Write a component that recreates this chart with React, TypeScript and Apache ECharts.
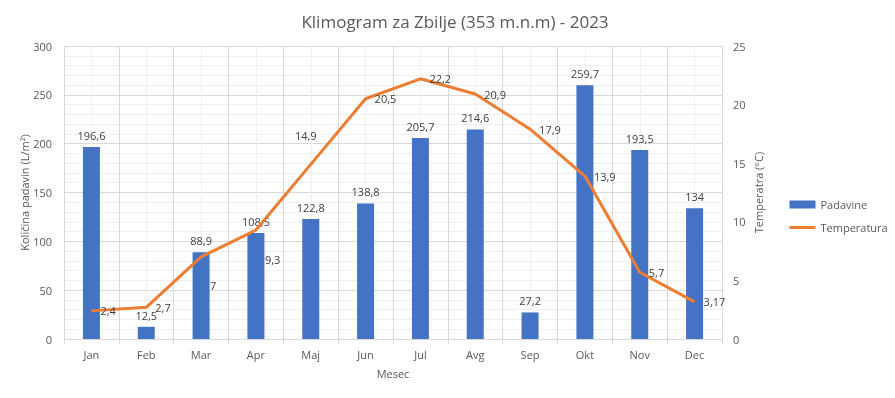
import React, { useEffect, useRef } from "react";
import * as echarts from "echarts";

const months = ["Jan", "Feb", "Mar", "Apr", "Maj", "Jun", "Jul", "Avg", "Sep", "Okt", "Nov", "Dec"];
const padavine = [196.6, 12.5, 88.9, 108.5, 122.8, 138.8, 205.7, 214.6, 27.2, 259.7, 193.5, 134];
const temperatura = [2.4, 2.7, 7, 9.3, 14.9, 20.5, 22.2, 20.9, 17.9, 13.9, 5.7, 3.17];
const leftTicks = [0, 50, 100, 150, 200, 250, 300];
const rightTicks = [0, 5, 10, 15, 20, 25];

const FONT = "'Open Sans', 'Noto Sans', sans-serif";
const fmt = (v: number) => String(v).replace(".", ",");

export default function App() {
  const ref = useRef<HTMLDivElement>(null);
  useEffect(() => {
    if (!ref.current) return;
    const chart = echarts.init(ref.current, undefined, { renderer: "svg" });
    const tempData = temperatura.map((v, i) => {
      const item: any = { value: v };
      if (i === 4) item.label = { position: "top" };
      return item;
    });
    chart.setOption({
      animation: false,
      textStyle: { fontFamily: FONT },
      title: {
        text: "Klimogram za Zbilje (353 m.n.m) - 2023",
        left: 450,
        textAlign: "center",
        top: 8,
        textStyle: { fontFamily: FONT, fontSize: 17, fontWeight: "normal", color: "#595959" },
      },
      legend: {
        orient: "vertical",
        left: 783,
        top: 194,
        itemWidth: 26,
        itemHeight: 8,
        itemGap: 12,
        textStyle: { fontFamily: FONT, fontSize: 11, color: "#595959" },
        data: [
          { name: "Padavine", icon: "rect" },
          { name: "Temperatura", itemStyle: { opacity: 0 }, lineStyle: { width: 3, color: "#ED7D31" } },
        ],
      },
      grid: { left: 64, right: 173, top: 46, bottom: 59, containLabel: false },
      xAxis: [
        {
          type: "category",
          data: months,
          name: "Mesec",
          nameLocation: "middle",
          nameGap: 29,
          nameMoveOverlap: false,
          nameTextStyle: { fontFamily: FONT, fontSize: 11, color: "#595959" },
          axisLine: { lineStyle: { color: "#d9d9d9" } },
          axisTick: { show: true, length: 5, lineStyle: { color: "#d9d9d9" } },
          axisLabel: { color: "#595959", fontSize: 11, margin: 10 },
          splitLine: { show: true, lineStyle: { color: "#d9d9d9" } },
          z: 2,
        },
        {
          type: "value",
          min: 0,
          max: 12,
          interval: 1,
          show: true,
          position: "bottom",
          axisLine: { show: false },
          axisTick: { show: false },
          axisLabel: { show: false },
          splitLine: { show: false },
          minorTick: { show: false, splitNumber: 2 },
          minorSplitLine: { show: true, lineStyle: { color: "#f0f0f0" } },
          z: 0,
        },
      ],
      yAxis: [
        {
          type: "value",
          min: 0,
          max: 300,
          interval: 50,
          name: "Količina padavin (L/m²)",
          nameLocation: "middle",
          nameGap: 34,
          nameMoveOverlap: false,
          nameTextStyle: { fontFamily: FONT, fontSize: 11, color: "#595959" },
          axisLine: { show: false },
          axisTick: { show: false },
          axisLabel: { color: "#595959", fontSize: 11, margin: 12, customValues: leftTicks },
          splitLine: { lineStyle: { color: "#d9d9d9" } },
          minorTick: { show: false, splitNumber: 5 },
          minorSplitLine: { show: true, lineStyle: { color: "#f0f0f0" } },
        },
        {
          type: "value",
          min: 0,
          max: 25,
          interval: 5,
          name: "Temperatra (°C)",
          nameLocation: "middle",
          nameGap: 31,
          nameMoveOverlap: false,
          nameRotate: 90,
          nameTextStyle: { fontFamily: FONT, fontSize: 11, color: "#595959" },
          axisLine: { show: false },
          axisTick: { show: false },
          axisLabel: { color: "#595959", fontSize: 11, margin: 11, customValues: rightTicks },
          splitLine: { show: false },
        },
      ],
      series: [
        {
          name: "Padavine",
          type: "bar",
          data: padavine,
          barWidth: 17,
          itemStyle: { color: "#4472C4" },
          label: {
            show: true,
            position: "top",
            distance: 6,
            color: "#404040",
            fontSize: 11,
            fontFamily: FONT,
            formatter: (p: any) => fmt(p.value),
          },
        },
        {
          name: "Temperatura",
          type: "line",
          yAxisIndex: 1,
          data: tempData,
          symbol: "circle",
          symbolSize: 0.01,
          showSymbol: true,
          lineStyle: { color: "#ED7D31", width: 3 },
          itemStyle: { color: "#ED7D31" },
          label: {
            show: true,
            position: "right",
            distance: 9,
            color: "#404040",
            fontSize: 11,
            fontFamily: FONT,
            formatter: (p: any) => fmt(p.value),
          },
          labelLayout: (params: any) => {
            const i = params.dataIndex;
            if (i === 2 || i === 3) return { dy: 29, hideOverlap: false };
            if (i === 4) return { dx: -5, dy: -14, hideOverlap: false };
            return { hideOverlap: false };
          },
          z: 3,
        },
      ],
    });
    return () => chart.dispose();
  }, []);
  return (
    <div
      ref={ref}
      style={{ position: "fixed", left: 0, top: 0, width: 895, height: 398 }}
    />
  );
}
